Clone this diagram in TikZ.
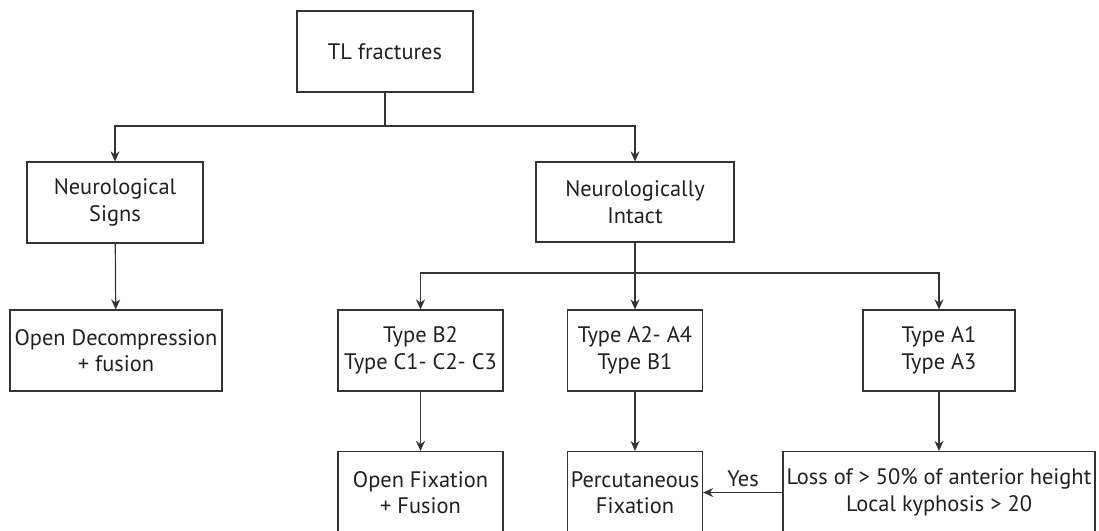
\documentclass[tikz,border=0pt]{standalone}
\usepackage{fontspec}
\setmainfont{PT Sans}
\usetikzlibrary{arrows.meta}
\definecolor{lc}{HTML}{333333}
\definecolor{tc}{HTML}{231F20}
\begin{document}
\begin{tikzpicture}[x=1pt,y=-1pt,
  box/.style={draw=lc, line width=1.2pt, align=center, inner sep=0pt, text=tc,
    font=\fontsize{22.4}{26.5}\selectfont},
  conn/.style={draw=lc, line width=1.2pt},
  arr/.style={conn, -{Stealth[length=10pt,width=9pt]}},
  lbl/.style={text=tc, inner sep=0pt, font=\fontsize{22.4}{26.5}\selectfont}]
\useasboundingbox (0,0) rectangle (1099,530);
\clip (0,0) rectangle (1099,530);
% boxes
\node[box, minimum width=176pt, minimum height=81pt] (tl) at (385,51.5) {TL fractures};
\node[box, minimum width=176pt, minimum height=81pt] (ns) at (115,202.5) {Neurological\\Signs};
\node[box, minimum width=198pt, minimum height=80pt] (ni) at (635,202) {Neurologically\\Intact};
\node[box, minimum width=212pt, minimum height=81pt] (od) at (116,350.5) {Open Decompression\\+ fusion};
\node[box, minimum width=165pt, minimum height=81pt] (b2) at (420.5,350.5) {Type B2\\Type C1- C2- C3};
\node[box, minimum width=135pt, minimum height=81pt] (a2) at (635,350.5) {Type A2- A4\\Type B1};
\node[box, minimum width=152pt, minimum height=81pt] (a1) at (939,350.5) {Type A1\\Type A3};
\node[box, minimum width=165pt, minimum height=82pt] (of) at (420.5,492.5) {Open Fixation\\+ Fusion};
\node[box, minimum width=135pt, minimum height=82pt] (pf) at (635,492.5) {Percutaneous\\Fixation};
\node[box, minimum width=312pt, minimum height=82pt] (lo) at (939,492.5) {Loss of > 50\% of anterior height\\Local kyphosis > 20};
% junctions
\coordinate (j1) at (385,126);
\coordinate (j2) at (635,273);
% connectors
\draw[conn] (tl) -- (j1);
\draw[arr] (j1) -| (ns);
\draw[arr] (j1) -| (ni);
\draw[arr] (ns) -- (od);
\draw[conn] (ni) -- (j2);
\draw[arr] (j2) -| (b2);
\draw[arr] (j2) -- (a2);
\draw[arr] (j2) -| (a1);
\draw[arr] (b2) -- (of);
\draw[arr] (a2) -- (pf);
\draw[arr] (a1) -- (lo);
\draw[arr] (lo) -- (pf);
\node[lbl] (yes) at (743,479) {Yes};
\end{tikzpicture}
\end{document}
